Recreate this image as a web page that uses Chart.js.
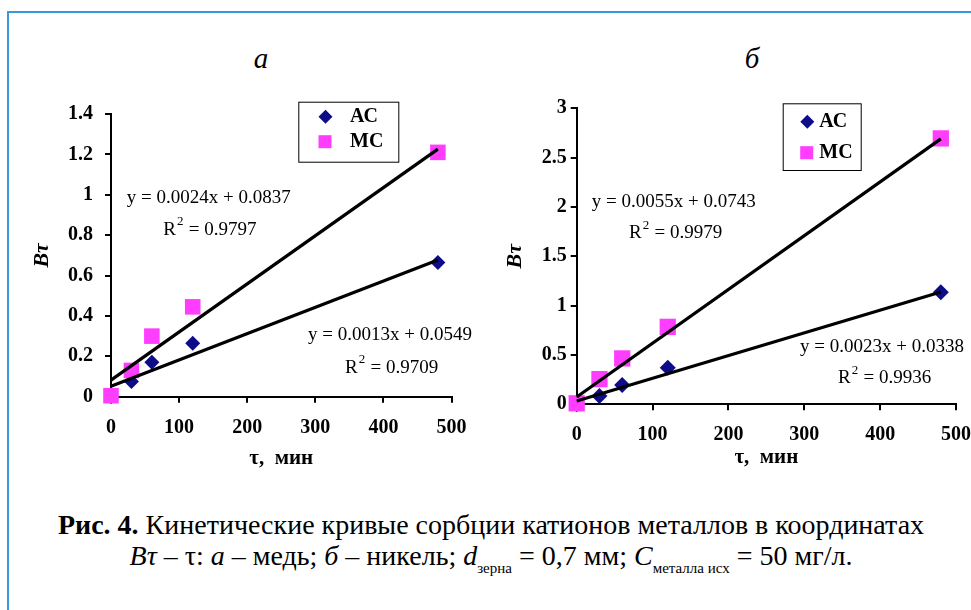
<!DOCTYPE html>
<html lang="ru">
<head>
<meta charset="utf-8">
<title>Кинетические кривые сорбции</title>
<script src="https://cdn.jsdelivr.net/npm/chart.js@4.4.1/dist/chart.umd.min.js"></script>
<style>
    html, body { margin: 0; padding: 0; background: #fff; }
    body { width: 971px; height: 610px; overflow: hidden; position: relative; font-family: "Liberation Serif", "Times New Roman", serif; }
    #frame { position: absolute; left: 7px; top: 11px; width: 1100px; height: 800px; border: 2px solid #3a9ad9; }
    .panel { position: absolute; top: 44px; font-size: 29px; line-height: 29px; font-style: italic; transform: translateX(-50%); }
    canvas { position: absolute; top: 90px; }
    #cuChart { left: 20px; }
    #niChart { left: 490px; }
    #caption { position: absolute; left: 0; width: 982px; top: 509px; text-align: center; font-size: 28px; line-height: 31px; color: #000; }
    #caption sub { font-size: 15px; vertical-align: baseline; position: relative; top: 8px; line-height: 0; }
</style>
</head>
<body>
<div id="frame"></div>
<div class="panel" style="left:261px">а</div>
<div class="panel" style="left:752px">б</div>
<canvas id="cuChart" width="460" height="385"></canvas>
<canvas id="niChart" width="500" height="385"></canvas>
<div id="caption">
    <b>Рис. 4.</b> Кинетические кривые сорбции катионов металлов в координатах<br>
    <i>Bτ</i> – τ: <i>а</i> – медь; <i>б</i> – никель; <i>d</i><sub>зерна</sub> = 0,7 мм; <i>C</i><sub>металла исх</sub> = 50 мг/л.
</div>
<script>
// -----------------------
// данные
// -----------------------
const timeMin = [0, 30, 60, 120, 480];
const seriesNames = ["АС", "МС"];

// а – медь
const cuAC = [0, 0.075, 0.17, 0.265, 0.665];
const cuMC = [0.005, 0.13, 0.30, 0.445, 1.21];
// б – никель
const niAC = [0, 0.085, 0.195, 0.37, 1.135];
const niMC = [0.01, 0.255, 0.465, 0.785, 2.695];

// линии тренда (концы при x = 0 и x = 480)
const fitX = [0, 480];
const cuACFit = [0.052, 0.677];
const cuMCFit = [0.082, 1.226];
const niACFit = [0.034, 1.138];
const niMCFit = [0.074, 2.69];

const cuEquations = ["y = 0.0024x + 0.0837", "y = 0.0013x + 0.0549"];
const cuR2 = ["0.9797", "0.9709"];
const niEquations = ["y = 0.0055x + 0.0743", "y = 0.0023x + 0.0338"];
const niR2 = ["0.9979", "0.9936"];

const xTickLabels = ["0", "100", "200", "300", "400", "500"];
const cuYTickLabels = ["0", "0.2", "0.4", "0.6", "0.8", "1", "1.2", "1.4"];
const niYTickLabels = ["0", "0.5", "1", "1.5", "2", "2.5", "3"];

const NAVY = "#0d0d8a";
const PINK = "#ff3dff";

Chart.defaults.font.family = '"Liberation Serif", "Times New Roman", serif';
Chart.defaults.color = "#000";

const pts = (xs, ys) => xs.map((x, i) => ({ x: x, y: ys[i] }));

// уравнения и легенда в рамке
const notesPlugin = {
    id: "notes",
    afterDraw(chart, args, opts) {
        const ctx = chart.ctx;
        ctx.save();
        ctx.fillStyle = "#000";
        ctx.textBaseline = "middle";
        ctx.textAlign = "left";

        opts.fits.forEach(f => {
            ctx.font = '19px "Liberation Serif", serif';
            ctx.fillText(f.eq, f.x, f.y);
            ctx.fillText("R", f.rx, f.ry);
            const w = ctx.measureText("R").width;
            ctx.fillText(" = " + f.r2, f.rx + w + 8, f.ry);
            ctx.font = '13px "Liberation Serif", serif';
            ctx.fillText("2", f.rx + w + 1, f.ry - 8);
        });

        const lg = opts.legend;
        ctx.strokeStyle = "#000";
        ctx.lineWidth = 1;
        ctx.strokeRect(lg.x + 0.5, lg.y + 0.5, lg.w, lg.h);
        ctx.font = 'bold 20px "Liberation Serif", serif';
        lg.items.forEach(it => {
            ctx.fillStyle = it.color;
            ctx.beginPath();
            if (it.shape === "diamond") {
                ctx.moveTo(it.mx, it.my - 7);
                ctx.lineTo(it.mx + 7, it.my);
                ctx.lineTo(it.mx, it.my + 7);
                ctx.lineTo(it.mx - 7, it.my);
                ctx.closePath();
            } else {
                ctx.rect(it.mx - 6.5, it.my - 6.5, 13, 13);
            }
            ctx.fill();
            ctx.fillStyle = "#000";
            ctx.fillText(it.text, it.tx, it.my);
        });
        ctx.restore();
    }
};

function makeChart(id, cfg) {
    const axisTitleFont = { weight: "bold", size: 21 };
    new Chart(document.getElementById(id), {
        type: "scatter",
        data: {
            datasets: [
                { label: "fitMC", data: pts(fitX, cfg.mcFit), showLine: true, pointRadius: 0,
                  borderColor: "#000", borderWidth: 3.2, order: 0, clip: false },
                { label: "fitAC", data: pts(fitX, cfg.acFit), showLine: true, pointRadius: 0,
                  borderColor: "#000", borderWidth: 3.2, order: 0, clip: false },
                { label: seriesNames[1], data: pts(timeMin, cfg.mc), pointStyle: "rect",
                  pointRadius: cfg.rectR, backgroundColor: PINK, borderColor: PINK, borderWidth: 0,
                  order: 1, clip: false },
                { label: seriesNames[0], data: pts(timeMin, cfg.ac), pointStyle: "rectRot",
                  pointRadius: cfg.diamondR, backgroundColor: NAVY, borderColor: NAVY, borderWidth: 0,
                  order: 2, clip: false }
            ]
        },
        options: {
            responsive: false,
            animation: false,
            events: [],
            layout: { padding: cfg.padding },
            plugins: {
                legend: { display: false },
                tooltip: { enabled: false },
                notes: { fits: cfg.fits, legend: cfg.legend }
            },
            scales: {
                x: {
                    type: "linear", min: 0, max: 500,
                    ticks: {
                        stepSize: 100, autoSkip: false, maxRotation: 0,
                        padding: cfg.xTickPad,
                        font: { weight: "bold", size: 20 },
                        callback: (v, i) => xTickLabels[i]
                    },
                    grid: { drawOnChartArea: false, color: "#000", lineWidth: 2, tickLength: 6 },
                    border: { color: "#000", width: 2 },
                    title: { display: true, text: "τ,  мин", font: axisTitleFont,
                             padding: { top: 0, bottom: cfg.xTitlePad } },
                    afterFit: s => { s.height = cfg.xHeight; }
                },
                y: {
                    type: "linear", min: 0, max: cfg.yMax,
                    ticks: {
                        stepSize: cfg.yStep, autoSkip: false,
                        padding: cfg.yTickPad,
                        font: { weight: "bold", size: 20 },
                        callback: (v, i) => cfg.yLabels[i]
                    },
                    grid: { drawOnChartArea: false, color: "#000", lineWidth: 2, tickLength: 6 },
                    border: { color: "#000", width: 2 },
                    title: { display: true, text: "Bτ",
                             font: { weight: "bold", style: "italic", size: 22 },
                             padding: { top: cfg.yTitlePad, bottom: 0 } },
                    afterFit: s => { s.width = cfg.yWidth; }
                }
            }
        },
        plugins: [notesPlugin]
    });
}

// -----------------------
// а – медь
// -----------------------
makeChart("cuChart", {
    ac: cuAC, mc: cuMC, acFit: cuACFit, mcFit: cuMCFit,
    yMax: 1.4, yStep: 0.2, yLabels: cuYTickLabels,
    padding: { top: 17.3, right: 17.3, left: 0, bottom: 0 },
    yWidth: 91, xHeight: 78.3,
    xTickPad: 13.5, yTickPad: 12, xTitlePad: 3.5, yTitlePad: 9.5,
    diamondR: 7.5, rectR: 11,
    fits: [
        { eq: cuEquations[0], x: 106.7, y: 108, rx: 143.3, ry: 140, r2: cuR2[0] },
        { eq: cuEquations[1], x: 288, y: 245, rx: 325, ry: 278, r2: cuR2[1] }
    ],
    legend: {
        x: 278.3, y: 11.7, w: 100, h: 60,
        items: [
            { shape: "diamond", color: NAVY, mx: 305.5, my: 26.7, tx: 330, text: seriesNames[0] },
            { shape: "square", color: PINK, mx: 305, my: 51.7, tx: 330, text: seriesNames[1] }
        ]
    }
});

// -----------------------
// б – никель
// -----------------------
makeChart("niChart", {
    ac: niAC, mc: niMC, acFit: niACFit, mcFit: niMCFit,
    yMax: 3, yStep: 0.5, yLabels: niYTickLabels,
    padding: { top: 18.3, right: 34, left: 0, bottom: 0 },
    yWidth: 86.7, xHeight: 70.7,
    xTickPad: 12.8, yTickPad: 4, xTitlePad: 4.5, yTitlePad: 12,
    diamondR: 8, rectR: 11.5,
    fits: [
        { eq: niEquations[0], x: 101.7, y: 111.7, rx: 139, ry: 143.3, r2: niR2[0] },
        { eq: niEquations[1], x: 310, y: 256.7, rx: 348, ry: 288.3, r2: niR2[1] }
    ],
    legend: {
        x: 292.7, y: 13.3, w: 78, h: 66.7,
        items: [
            { shape: "diamond", color: NAVY, mx: 317.3, my: 31.7, tx: 329.3, text: seriesNames[0] },
            { shape: "square", color: PINK, mx: 316.7, my: 62.7, tx: 329.3, text: seriesNames[1] }
        ]
    }
});
</script>
</body>
</html>
